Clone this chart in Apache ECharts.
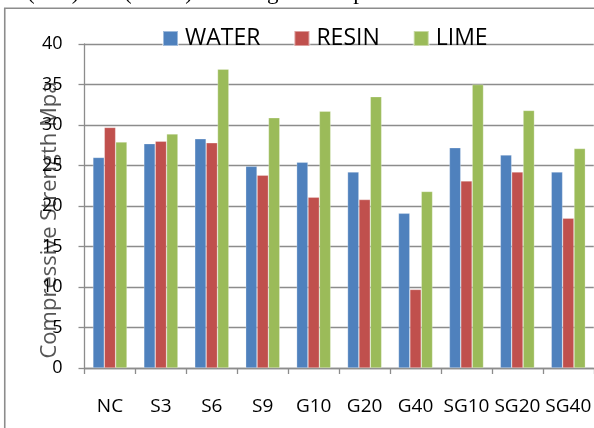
<!DOCTYPE html>
<html>
<head>
<meta charset="utf-8">
<script src="https://cdn.jsdelivr.net/npm/echarts@6/dist/echarts.min.js"></script>
<style>
  html, body { margin: 0; padding: 0; background: #fff; }
  #chart { width: 594px; height: 428px; }
</style>
</head>
<body>
<div id="chart"></div>
<script>
// Mix designations along the x axis
var categories = ['NC', 'S3', 'S6', 'S9', 'G10', 'G20', 'G40', 'SG10', 'SG20', 'SG40'];

// Compressive strength (MPa) by curing/treatment type
var waterValues = [26.0, 27.7, 28.3, 24.9, 25.4, 24.2, 19.1, 27.2, 26.3, 24.2];
var resinValues = [29.7, 28.0, 27.8, 23.8, 21.1, 20.8, 9.7, 23.1, 24.2, 18.5];
var limeValues  = [27.9, 28.9, 36.9, 30.9, 31.7, 33.5, 21.8, 35.0, 31.8, 27.1];

var seriesNames = ['WATER', 'RESIN', 'LIME'];
var yTicks = { min: 0, max: 40, interval: 5 };
var yTitle = 'Compressive Strength Mpa';
var bodyText = 'or (S-G) and (SG-G) were higher compared to that of the';

var FONT = '"Open Sans", "Noto Sans", sans-serif';
var GRID_GRAY = '#8c8c8c';

var chart = echarts.init(document.getElementById('chart'), null, { renderer: 'canvas' });

function bar(name, data, color) {
  return {
    name: name,
    type: 'bar',
    data: data,
    barGap: '0%',
    barCategoryGap: '33%',
    itemStyle: { color: color, borderColor: 'rgba(255,255,255,0.45)', borderWidth: 0.6 },
    emphasis: { disabled: true }
  };
}

chart.setOption({
  animation: false,
  backgroundColor: '#fff',
  legend: {
    data: seriesNames,
    left: 157,
    top: 22,
    itemWidth: 15,
    itemHeight: 15,
    itemGap: 33,
    icon: 'rect',
    textStyle: { fontFamily: FONT, fontSize: 23, color: '#000', padding: [0, 0, 0, 2] }
  },
  grid: { left: 84.5, top: 44, width: 515, height: 324, containLabel: false },
  xAxis: {
    type: 'category',
    data: categories,
    axisLine: { lineStyle: { color: GRID_GRAY, width: 1.3 } },
    axisTick: { show: true, length: 6, alignWithLabel: false, lineStyle: { color: GRID_GRAY, width: 1.3 } },
    axisLabel: { fontFamily: FONT, fontSize: 19, color: '#000', margin: 29, interval: 0 }
  },
  yAxis: {
    type: 'value',
    min: yTicks.min,
    max: yTicks.max,
    interval: yTicks.interval,
    axisLine: { show: true, lineStyle: { color: GRID_GRAY, width: 1.3 } },
    axisTick: { show: true, length: 6, lineStyle: { color: GRID_GRAY, width: 1.3 } },
    axisLabel: { fontFamily: FONT, fontSize: 18, color: '#000', margin: 22 },
    splitLine: { lineStyle: { color: GRID_GRAY, width: 1.3 } }
  },
  series: [
    bar(seriesNames[0], waterValues, '#4F81BD'),
    bar(seriesNames[1], resinValues, '#C0504D'),
    bar(seriesNames[2], limeValues, '#9BBB59')
  ],
  graphic: [
    {
      type: 'rect',
      silent: true,
      z: -1,
      shape: { x: 4.75, y: 8.25, width: 620, height: 440 },
      style: { fill: 'none', stroke: '#8c8c8c', lineWidth: 1.6 }
    },
    {
      type: 'text',
      silent: true,
      x: 2,
      y: -7,
      style: {
        text: bodyText,
        font: '23px "Liberation Serif", "DejaVu Serif", serif',
        fill: '#000',
        align: 'left',
        verticalAlign: 'middle'
      }
    },
    {
      type: 'text',
      silent: true,
      x: 49.5,
      y: 220,
      rotation: Math.PI / 2,
      style: {
        text: yTitle,
        font: '22px ' + FONT,
        fill: '#555555',
        align: 'center',
        verticalAlign: 'middle'
      }
    }
  ]
});
</script>
</body>
</html>
